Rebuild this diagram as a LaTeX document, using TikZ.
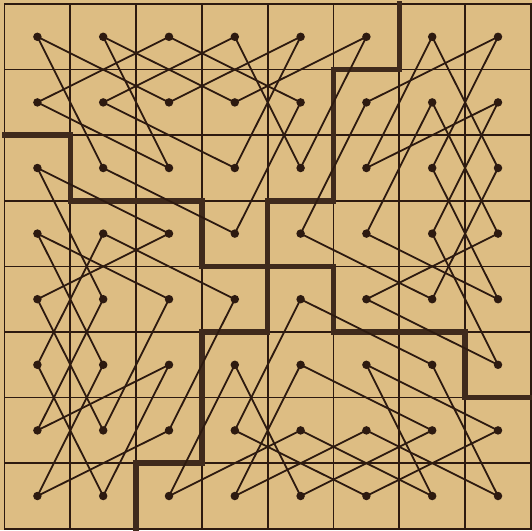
\documentclass[tikz,border=0pt]{standalone}
\definecolor{paper}{RGB}{221,189,131}
\definecolor{ink}{RGB}{45,26,16}
\tikzset{
  gridline/.style={draw=ink, line width=1.7pt},
  wall/.style={draw=ink!90!paper, line width=5.5pt, line join=miter, line cap=rect},
  tour/.style={draw=ink, line width=1.8pt},
  dot/.style={circle, fill=ink, inner sep=0pt, minimum size=8.5pt}
}
\begin{document}
\begin{tikzpicture}[x=65.8pt, y=-65.6pt]
\useasboundingbox (-0.0684,-0.061) rectangle (8.0167,8.0183);
\fill[paper] (-0.0684,-0.061) rectangle (8.0167,8.0183);
% board grid
\foreach \k in {0,...,8}{
  \draw[gridline] (\k,0) -- (\k,8);
  \draw[gridline] (0,\k) -- (8,\k);
}
\draw[gridline] (0,0) rectangle (8,8);
% dividing walls
\draw[wall] (0,2) -- (1,2) -- (1,3) -- (3,3) -- (3,4) -- (4,4) -- (4,3) -- (5,3) -- (5,1) -- (6,1) -- (6,0);
\draw[wall] (8,6) -- (7,6) -- (7,5) -- (5,5) -- (5,4) -- (4,4) -- (4,5) -- (3,5) -- (3,7) -- (2,7) -- (2,8);
% squares
\foreach \ii in {0,...,7}{
  \foreach \jj in {0,...,7}{
    \node[dot] (d-\ii-\jj) at (\ii+0.5,\jj+0.5) {};
  }
}
% four re-entrant tours, one per quarter (rotations of the first)
\foreach \ua/\ub/\uc/\ud in {0/0/1/2, 0/0/2/1, 1/0/3/1, 1/0/2/2, 2/0/0/1, 2/0/4/1,
  3/0/1/1, 3/0/4/2, 4/0/2/1, 4/0/3/2, 5/0/3/1, 5/0/4/2, 3/2/1/1, 0/1/2/2,
  1/2/3/3, 3/3/4/1}{
  \pgfmathtruncatemacro{\va}{7-\ua}
  \pgfmathtruncatemacro{\vb}{7-\ub}
  \pgfmathtruncatemacro{\vc}{7-\uc}
  \pgfmathtruncatemacro{\vd}{7-\ud}
  \draw[tour] (d-\ua-\ub.center) -- (d-\uc-\ud.center);
  \draw[tour] (d-\vb-\ua.center) -- (d-\vd-\uc.center);
  \draw[tour] (d-\va-\vb.center) -- (d-\vc-\vd.center);
  \draw[tour] (d-\ub-\va.center) -- (d-\ud-\vc.center);
}
\end{tikzpicture}
\end{document}
